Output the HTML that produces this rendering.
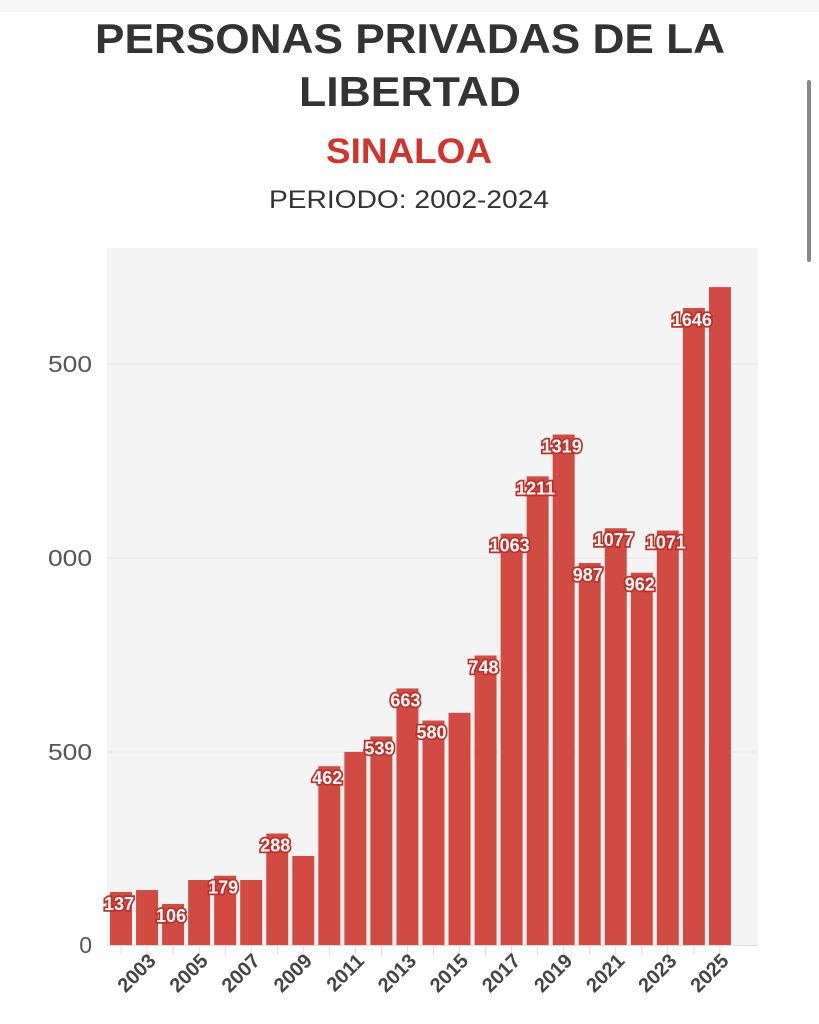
<!DOCTYPE html>
<html><head><meta charset="utf-8"><style>
html,body{margin:0;padding:0;background:#fff;}
svg{display:block;}
</style></head><body>
<svg width="819" height="1024" viewBox="0 0 819 1024" xmlns="http://www.w3.org/2000/svg" font-family="Liberation Sans, sans-serif">
<rect x="0" y="0" width="819" height="12" fill="#f6f6f6"/>
<rect x="807" y="80" width="4" height="182" rx="2" fill="#888"/>
<text x="410" y="53" text-anchor="middle" font-size="42" font-weight="bold" fill="#333" textLength="630" lengthAdjust="spacingAndGlyphs">PERSONAS PRIVADAS DE LA</text>
<text x="410" y="106" text-anchor="middle" font-size="42" font-weight="bold" fill="#333" textLength="222" lengthAdjust="spacingAndGlyphs">LIBERTAD</text>
<text x="409" y="163" text-anchor="middle" font-size="35" font-weight="bold" fill="#d0342c" textLength="166" lengthAdjust="spacingAndGlyphs">SINALOA</text>
<text x="409" y="208" text-anchor="middle" font-size="25" fill="#333" textLength="280" lengthAdjust="spacingAndGlyphs">PERIODO: 2002-2024</text>
<rect x="107" y="248" width="651" height="697" fill="#f4f4f4"/>
<g stroke="#e6e6e6" stroke-width="1">
<line x1="107" y1="364" x2="758" y2="364"/><line x1="107" y1="558" x2="758" y2="558"/><line x1="107" y1="752" x2="758" y2="752"/>
</g>
<line x1="107" y1="945.5" x2="758" y2="945.5" stroke="#ddd"/>
<g font-size="23" fill="#555" text-anchor="end">
<text x="92" y="372" textLength="44" lengthAdjust="spacingAndGlyphs">500</text><text x="92" y="566" textLength="44" lengthAdjust="spacingAndGlyphs">000</text><text x="92" y="760" textLength="44" lengthAdjust="spacingAndGlyphs">500</text><text x="92" y="953">0</text>
</g>
<g id="bars" fill="#d24b43"></g>
<g id="ticks" stroke="#ddd"></g>
<g id="labs"></g>
<g id="yrs" font-size="20" font-weight="bold" fill="#444"></g>
<script>
(function(){
var v=[137,142,106,168,179,168,288,230,462,499,539,663,580,600,748,1063,1211,1319,987,1077,962,1071,1646,1700];
var lab=[1,0,1,0,1,0,1,0,1,0,1,1,1,0,1,1,1,1,1,1,1,1,1,0];
var NS="http://www.w3.org/2000/svg";
function el(t,a,p,txt){var e=document.createElementNS(NS,t);for(var k in a)e.setAttribute(k,a[k]);if(txt)e.textContent=txt;document.getElementById(p).appendChild(e);}
for(var i=0;i<24;i++){
 var x=110+i*26.04,h=v[i]*0.387,ty=945-h,cx=x+11;
 el("rect",{x:x,y:ty,width:22,height:h},"bars");
 el("line",{x1:cx,y1:946,x2:cx,y2:955},"ticks");
 if(lab[i]){
  el("text",{x:cx-2,y:ty+18,"text-anchor":"middle","font-size":"18","font-weight":"bold",fill:"#fff",stroke:"#c0302a","stroke-width":"3.5","paint-order":"stroke"},"labs",String(v[i]));
 }
 if(i%2==1){
  el("text",{x:0,y:0,"text-anchor":"end",transform:"translate("+(cx+10)+",962) rotate(-45)"},"yrs",String(2002+i));
 }
}
})();
</script>
</svg>
</body></html>
